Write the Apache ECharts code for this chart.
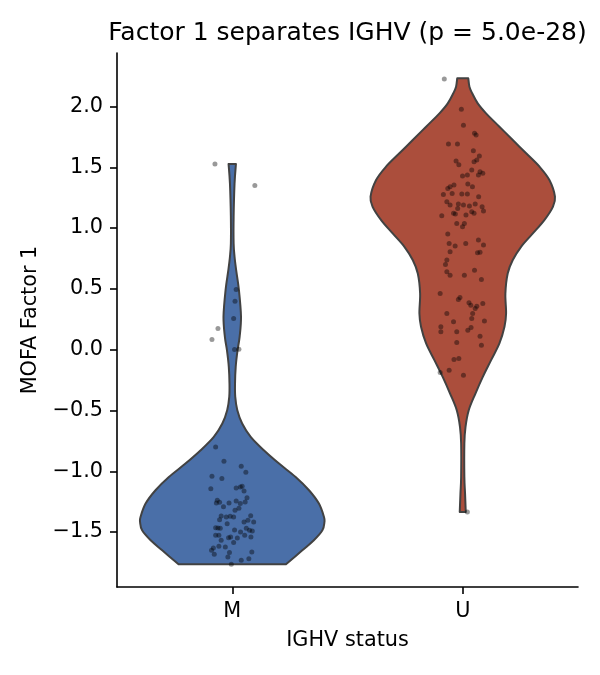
<!doctype html>
<html lang="en">
<head>
    <meta charset="UTF-8">
    <title>Factor 1 separates IGHV</title>
    <style>
        *{margin: 0; padding: 0}
        body{background: #fff}
    </style>
</head>
<body>
<div id="block" style="width:600px;height:675px"></div>

<script src="https://cdn.jsdelivr.net/npm/echarts@6/dist/echarts.min.js"></script>
<script>
    // categories and tick labels
    const groups = ['M', 'U'];
    const yTicks = [-1.5, -1.0, -0.5, 0.0, 0.5, 1.0, 1.5, 2.0];
    const titleText = 'Factor 1 separates IGHV (p = 5.0e-28)';

    // violin outlines: [value, half width in category units]
    const violinM = [
        [1.527, 0.016], [1.368, 0.010], [1.093, 0.006], [0.874, 0.006], [0.764, 0.010],
        [0.654, 0.017], [0.490, 0.029], [0.270, 0.038], [0.105, 0.032], [-0.004, 0.023],
        [-0.141, 0.015], [-0.278, 0.012], [-0.388, 0.013], [-0.498, 0.022], [-0.607, 0.043],
        [-0.717, 0.080], [-0.827, 0.137], [-0.937, 0.203], [-1.047, 0.275], [-1.156, 0.333],
        [-1.266, 0.376], [-1.376, 0.398], [-1.417, 0.400], [-1.486, 0.391], [-1.568, 0.354],
        [-1.650, 0.304], [-1.765, 0.233]
    ];
    const violinU = [
        [2.232, 0.024], [2.163, 0.029], [2.109, 0.041], [2.026, 0.065], [1.944, 0.101],
        [1.834, 0.159], [1.724, 0.217], [1.615, 0.275], [1.505, 0.333], [1.395, 0.376],
        [1.258, 0.400], [1.175, 0.391], [1.066, 0.354], [0.956, 0.304], [0.846, 0.253],
        [0.737, 0.217], [0.627, 0.195], [0.463, 0.185], [0.298, 0.188], [0.188, 0.181],
        [0.051, 0.159], [-0.086, 0.123], [-0.224, 0.087], [-0.361, 0.055], [-0.498, 0.026],
        [-0.635, 0.012], [-0.772, 0.007], [-1.047, 0.007], [-1.184, 0.010], [-1.335, 0.013]
    ];

    // jittered sample points: [offset from category centre, factor value]
    const pointsM = [
        [-0.075, 1.527], [0.098, 1.351], [0.017, 0.495], [0.012, 0.399], [0.006, 0.257],
        [-0.062, 0.174], [-0.088, 0.084], [0.010, 0.001], [0.029, 0.004], [-0.072, -0.800],
        [-0.036, -0.918], [0.039, -0.959], [0.059, -1.008], [-0.088, -1.041], [-0.045, -1.060],
        [-0.093, -1.143], [0.017, -1.137], [0.035, -1.129], [0.043, -1.123], [0.051, -1.162],
        [0.064, -1.217], [-0.065, -1.239], [-0.055, -1.255], [-0.069, -1.261], [-0.038, -1.291],
        [-0.014, -1.261], [0.017, -1.244], [0.035, -1.266], [0.056, -1.252], [0.029, -1.305],
        [0.012, -1.321], [-0.048, -1.368], [-0.026, -1.376], [-0.009, -1.370], [0.006, -1.376],
        [0.080, -1.365], [0.051, -1.417], [0.068, -1.403], [0.093, -1.417], [-0.055, -1.398],
        [-0.022, -1.431], [-0.072, -1.464], [-0.062, -1.466], [-0.052, -1.469], [0.061, -1.469],
        [0.075, -1.486], [0.087, -1.491], [0.010, -1.483], [0.036, -1.499], [-0.072, -1.527],
        [-0.058, -1.527], [-0.016, -1.546], [-0.007, -1.540], [0.022, -1.549], [0.054, -1.527],
        [0.081, -1.540], [-0.048, -1.568], [0.006, -1.587], [-0.030, -1.623], [-0.082, -1.631],
        [-0.090, -1.650], [-0.078, -1.683], [-0.058, -1.617], [-0.012, -1.669], [-0.019, -1.705],
        [0.085, -1.664], [0.039, -1.733], [0.072, -1.719], [-0.004, -1.765]
    ];
    const pointsU = [
        [-0.080, 2.226], [-0.006, 1.977], [0.003, 1.845], [0.051, 1.779], [0.058, 1.765],
        [-0.062, 1.691], [-0.023, 1.691], [0.046, 1.636], [0.072, 1.593], [0.061, 1.560],
        [0.049, 1.546], [-0.029, 1.551], [-0.017, 1.521], [0.039, 1.477], [0.075, 1.464],
        [0.087, 1.450], [0.068, 1.436], [-0.001, 1.428], [0.020, 1.436], [-0.055, 1.340],
        [-0.038, 1.354], [-0.065, 1.326], [0.022, 1.362], [0.042, 1.340], [-0.084, 1.277],
        [-0.046, 1.285], [-0.004, 1.280], [0.020, 1.280], [0.069, 1.258], [-0.069, 1.217],
        [-0.055, 1.189], [-0.019, 1.198], [0.003, 1.189], [0.029, 1.181], [0.054, 1.198],
        [0.084, 1.176], [-0.040, 1.121], [-0.022, 1.162], [-0.091, 1.101], [-0.032, 1.115],
        [0.014, 1.107], [0.039, 1.134], [0.049, 1.121], [0.090, 1.140], [-0.026, 1.038],
        [0.007, 1.038], [-0.001, 1.011], [-0.065, 0.951], [-0.059, 0.874], [-0.033, 0.852],
        [-0.055, 0.805], [0.013, 0.874], [0.068, 0.901], [0.090, 0.860], [0.064, 0.797],
        [0.075, 0.802], [-0.069, 0.737], [-0.075, 0.701], [-0.069, 0.641], [-0.055, 0.613],
        [0.007, 0.613], [0.051, 0.654], [0.081, 0.578], [-0.098, 0.462], [-0.019, 0.413],
        [-0.012, 0.429], [0.027, 0.385], [0.035, 0.366], [0.061, 0.358], [0.087, 0.380],
        [0.054, 0.339], [-0.069, 0.298], [0.043, 0.298], [-0.040, 0.229], [0.039, 0.257],
        [0.094, 0.235], [-0.095, 0.188], [-0.095, 0.147], [-0.026, 0.147], [0.022, 0.160],
        [0.036, 0.182], [0.075, 0.111], [-0.026, 0.059], [0.081, 0.037], [-0.038, -0.081],
        [-0.017, -0.073], [-0.098, -0.188], [-0.059, -0.169], [0.003, -0.210], [0.020, -1.335]
    ];

    const violins = [violinM, violinU];
    const points = [pointsM, pointsU];
    const colors = ['#4a6fa8', '#ab4e3c'];
</script>
<script>
    const fmt = v => v.toFixed(1).replace('-', '\u2212');
    const font = 'DejaVu Sans';

    // smooth curve through screen points (catmull-rom as cubic beziers)
    const curveThrough = function(pts) {
        let d = '';
        for (let k = 0; k < pts.length - 1; k++) {
            const p0 = pts[Math.max(k - 1, 0)], p1 = pts[k], p2 = pts[k + 1], p3 = pts[Math.min(k + 2, pts.length - 1)];
            const c1 = [p1[0] + (p2[0] - p0[0]) / 6, p1[1] + (p2[1] - p0[1]) / 6];
            const c2 = [p2[0] - (p3[0] - p1[0]) / 6, p2[1] - (p3[1] - p1[1]) / 6];
            d += ' C' + c1[0] + ',' + c1[1] + ' ' + c2[0] + ',' + c2[1] + ' ' + p2[0] + ',' + p2[1];
        }
        return d;
    };

    const chart = echarts.init(document.getElementById('block'));

    let series = [];
    // violins
    series.push({
        type: 'custom',
        data: groups.map((g, i) => [i]),
        clip: false,
        z: 1,
        renderItem: function(params, api) {
            const i = params.dataIndex;
            const prof = violins[i];
            const right = prof.map(p => api.coord([i + p[1], p[0]]));
            const left = prof.map(p => api.coord([i - p[1], p[0]])).reverse();
            let d = 'M' + right[0][0] + ',' + right[0][1] + curveThrough(right);
            d += ' L' + left[0][0] + ',' + left[0][1] + curveThrough(left) + ' Z';
            return {
                type: 'path',
                shape: {pathData: d},
                style: {fill: colors[i], stroke: '#424242', lineWidth: 2, lineJoin: 'round'}
            };
        }
    });
    // jittered points
    points.forEach((arr, i) => {
        series.push({
            type: 'scatter',
            data: arr.map(p => [i + p[0], p[1]]),
            symbolSize: 5,
            z: 3,
            itemStyle: {color: 'rgba(0,0,0,0.5)'},
            silent: true
        });
    });

    const option = {
        animation: false,
        graphic: [{
            type: 'text',
            x: 347.5, y: 33,
            style: {
                text: titleText, align: 'center', verticalAlign: 'middle',
                fontFamily: font, fontSize: 25, fill: '#000'
            }
        }],
        grid: {left: 117, right: 22, top: 53, bottom: 88},
        xAxis: {
            type: 'value',
            min: -0.5, max: 1.5,
            name: 'IGHV status',
            nameLocation: 'middle',
            nameGap: 43,
            nameTextStyle: {fontFamily: font, fontSize: 20.8, color: '#000'},
            splitLine: {show: false},
            axisLine: {onZero: false, lineStyle: {color: '#000', width: 1.6}},
            axisTick: {customValues: [0, 1], length: 7, lineStyle: {color: '#000', width: 1.6}},
            axisLabel: {
                customValues: [0, 1],
                formatter: v => groups[Math.round(v)],
                margin: 14,
                fontFamily: font, fontSize: 20.8, color: '#000'
            }
        },
        yAxis: {
            type: 'value',
            min: -1.952, max: 2.44,
            name: 'MOFA Factor 1',
            nameLocation: 'middle',
            nameGap: 73,
            nameTextStyle: {fontFamily: font, fontSize: 20.8, color: '#000'},
            splitLine: {show: false},
            axisLine: {show: true, onZero: false, lineStyle: {color: '#000', width: 1.6}},
            axisTick: {show: true, customValues: yTicks, length: 7, lineStyle: {color: '#000', width: 1.6}},
            axisLabel: {
                customValues: yTicks,
                formatter: fmt,
                margin: 14,
                fontFamily: font, fontSize: 20.8, color: '#000'
            }
        },
        series: series
    };
    chart.setOption(option);
</script>
</body>
</html>
